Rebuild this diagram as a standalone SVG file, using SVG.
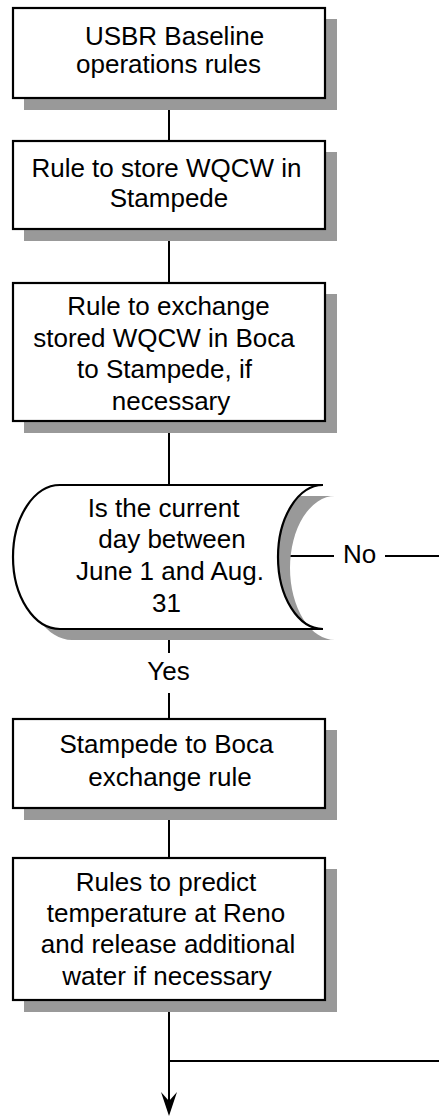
<svg xmlns="http://www.w3.org/2000/svg" width="439" height="1116" viewBox="0 0 439 1116">
  <style>
    .shadow { fill: #999999; stroke: none; }
    .box { fill: #ffffff; stroke: #000000; stroke-width: 2.2; }
    .link { fill: none; stroke: #000000; stroke-width: 2; }
    text { font-family: "Liberation Sans", Arial, sans-serif; font-size: 26px; fill: #000000; text-anchor: middle; }
  </style>
  <defs>
    <marker id="arrow" markerUnits="userSpaceOnUse" markerWidth="26" markerHeight="18" refX="9" refY="8" orient="auto">
      <path d="M0,0 L24,8 L0,16 L9,8 Z" fill="#000000"/>
    </marker>
  </defs>

  <rect width="439" height="1116" fill="#ffffff"/>

  <!-- connectors -->
  <g id="connectors">
    <line class="link" x1="169" y1="98" x2="169" y2="141"/>
    <line class="link" x1="169" y1="229" x2="169" y2="283"/>
    <line class="link" x1="169" y1="421" x2="169" y2="485"/>
    <line class="link" x1="169" y1="629" x2="169" y2="653"/>
    <line class="link" x1="169" y1="693" x2="169" y2="719"/>
    <line class="link" x1="169" y1="808" x2="169" y2="858"/>
    <line class="link" x1="278" y1="556" x2="334" y2="556"/>
    <line class="link" x1="385" y1="556" x2="439" y2="556"/>
    <line class="link" x1="169" y1="1061" x2="439" y2="1061"/>
    <line class="link" x1="169" y1="1000" x2="169" y2="1101" marker-end="url(#arrow)"/>
    <text x="359.5" y="563">No</text>
    <text x="168.5" y="680">Yes</text>
  </g>

  <!-- USBR baseline rules -->
  <g id="baseline">
    <rect class="shadow" x="24" y="19" width="313" height="91"/>
    <rect class="box" x="13" y="8" width="312" height="90"/>
    <text x="174.5" y="45">USBR Baseline</text>
    <text x="168.5" y="73">operations rules</text>
  </g>

  <!-- store WQCW in Stampede -->
  <g id="store">
    <rect class="shadow" x="24" y="152" width="313" height="89"/>
    <rect class="box" x="13" y="141" width="312" height="88"/>
    <text x="166.5" y="177">Rule to store WQCW in</text>
    <text x="169" y="207">Stampede</text>
  </g>

  <!-- exchange WQCW from Boca -->
  <g id="exchange">
    <rect class="shadow" x="24" y="294" width="313" height="139"/>
    <rect class="box" x="13" y="283" width="312" height="138"/>
    <text x="168.5" y="315">Rule to exchange</text>
    <text x="164" y="347">stored WQCW in Boca</text>
    <text x="164.5" y="378">to Stampede, if</text>
    <text x="171" y="410">necessary</text>
  </g>

  <!-- date check -->
  <g id="decision">
    <path class="shadow" d="M72,496 L335,496 A45,72 0 0 0 335,640 L72,640 A47,72 0 0 1 72,496 Z"/>
    <path class="box" d="M60,485 L323,485 A45,72 0 0 0 323,629 L60,629 A47,72 0 0 1 60,485 Z"/>
    <text x="163.5" y="517">Is the current</text>
    <text x="172" y="548">day between</text>
    <text x="170" y="580">June 1 and Aug.</text>
    <text x="166.5" y="612">31</text>
  </g>

  <!-- Stampede to Boca exchange -->
  <g id="stampede-boca">
    <rect class="shadow" x="24" y="730" width="313" height="90"/>
    <rect class="box" x="13" y="719" width="312" height="89"/>
    <text x="166.5" y="753">Stampede to Boca</text>
    <text x="170" y="786">exchange rule</text>
  </g>

  <!-- Reno temperature rules -->
  <g id="reno">
    <rect class="shadow" x="24" y="869" width="313" height="143"/>
    <rect class="box" x="13" y="858" width="312" height="142"/>
    <text x="166" y="891">Rules to predict</text>
    <text x="166" y="922">temperature at Reno</text>
    <text x="168" y="953">and release additional</text>
    <text x="167" y="985">water if necessary</text>
  </g>
</svg>
